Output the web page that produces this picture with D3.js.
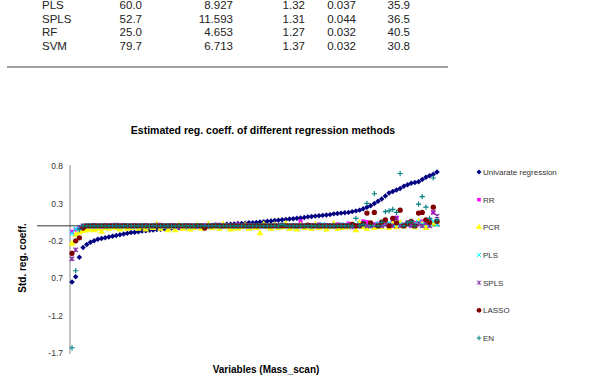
<!DOCTYPE html>
<html>
<head>
<meta charset="utf-8">
<script src="https://cdn.jsdelivr.net/npm/d3@7"></script>
<style>
  body { margin: 0; background: #fff; }
  text { font-family: Arial, "Liberation Sans", sans-serif; }
</style>
</head>
<body>
<script>
var width = 603,
  height = 380;

// table rows still visible above the figure
var methods = ["PLS", "SPLS", "RF", "SVM"];
var col1 = ["60.0", "52.7", "25.0", "79.7"];
var col2 = ["8.927", "11.593", "4.653", "6.713"];
var col3 = ["1.32", "1.31", "1.27", "1.37"];
var col4 = ["0.037", "0.044", "0.032", "0.032"];
var col5 = ["35.9", "36.5", "40.5", "30.8"];

// chart
var seriesNames = ["Univarate regression", "RR", "PCR", "PLS", "SPLS", "LASSO", "EN"];
var yTicks = [0.8, 0.3, -0.2, -0.7, -1.2, -1.7];
var yTickLabels = ["0.8", "0.3", "-0.2", "0.7", "-1.2", "-1.7"];

var univariate = [
  -0.75, -0.68, -0.42, -0.29, -0.25, -0.22, -0.20, -0.18, -0.17, -0.16,
  -0.15, -0.14, -0.13, -0.12, -0.11, -0.10, -0.09, -0.085, -0.08, -0.07,
  -0.065, -0.06, -0.055, -0.05, -0.045, -0.04, -0.035, -0.03, -0.03, -0.025,
  -0.02, -0.02, -0.015, -0.01, -0.01, -0.005, 0, 0, 0.005, 0.01,
  0.01, 0.015, 0.02, 0.02, 0.025, 0.03, 0.03, 0.035, 0.04, 0.04,
  0.045, 0.05, 0.055, 0.06, 0.065, 0.07, 0.075, 0.08, 0.085, 0.09,
  0.095, 0.10, 0.105, 0.11, 0.12, 0.125, 0.13, 0.135, 0.14, 0.145,
  0.15, 0.16, 0.165, 0.17, 0.175, 0.18, 0.19, 0.20, 0.21, 0.23,
  0.25, 0.27, 0.30, 0.33, 0.36, 0.40, 0.44, 0.46, 0.48, 0.50,
  0.53, 0.55, 0.57, 0.58, 0.59, 0.62, 0.65, 0.67, 0.69, 0.72
];
var rr = [
  -0.08, -0.05, -0.03, -0.02, -0.01, -0.01, 0.01, 0, -0.01, 0.01,
  0, 0.01, -0.01, 0, 0.01, 0, -0.01, 0.01, 0, 0,
  0.01, -0.01, 0, 0.02, 0, -0.01, 0, 0.01, 0, -0.02,
  0, 0.01, 0, -0.01, 0.01, 0, 0.01, -0.01, 0, 0.01,
  0, -0.01, 0.01, 0, 0, 0.02, -0.01, 0, 0.01, 0,
  -0.01, 0, 0.01, 0, -0.02, 0.01, 0, 0.01, 0, -0.01,
  0.01, 0, 0.06, 0, -0.01, 0.01, 0, 0.02, 0, 0.01,
  0, -0.01, 0.02, 0, 0.01, 0.03, -0.02, 0.01, 0.04, 0.06,
  0.05, 0, 0.02, 0.03, -0.01, 0.04, 0.02, 0.06, 0.11, 0.03,
  0.02, 0.05, 0.01, 0.04, 0.02, 0.06, 0.03, 0.08, 0.18, 0.04
];
var pcr = [
  -0.24, -0.12, -0.09, -0.07, -0.06, -0.05, -0.06, -0.04, -0.08, -0.03,
  -0.04, -0.02, -0.03, -0.05, -0.02, -0.04, -0.03, -0.01, -0.04, -0.02,
  -0.05, -0.02, -0.03, 0.02, -0.04, -0.01, -0.06, -0.02, -0.06, 0.01,
  -0.04, -0.02, -0.05, -0.03, 0.01, -0.04, -0.02, 0.02, -0.03, -0.01,
  -0.04, 0.02, -0.02, -0.05, -0.03, -0.04, -0.02, 0.01, -0.04, -0.02,
  -0.03, -0.10, 0.02, -0.02, -0.04, 0.01, -0.03, -0.02, 0.03, -0.04,
  -0.02, -0.05, 0.01, -0.03, -0.02, -0.04, 0.02, -0.03, -0.01, -0.05,
  -0.02, 0.03, -0.04, -0.03, -0.02, -0.02, 0.01, -0.06, 0.04, -0.02,
  -0.04, 0.02, -0.03, -0.01, -0.02, 0.05, -0.03, 0.03, -0.02, 0.04,
  -0.01, 0.03, 0.05, -0.02, 0.06, 0.02, -0.03, 0.04, 0.03, 0.05
];
var pls = [
  -0.10, -0.04, -0.02, -0.01, 0, 0.01, -0.01, 0, 0.01, 0,
  -0.01, 0, 0.01, -0.01, 0, 0.01, 0, -0.01, 0, 0.01,
  0, -0.01, 0.01, 0, 0, -0.01, 0.01, 0, -0.01, 0,
  0.01, 0, -0.01, 0, 0.01, 0, 0, -0.01, 0.01, 0,
  -0.01, 0, 0.01, 0, -0.01, 0.01, 0, 0, -0.01, 0.01,
  0, 0.01, -0.01, 0, 0.01, 0, -0.01, 0.01, 0, 0,
  0.01, -0.01, 0, 0.01, 0, -0.01, 0.01, 0, 0.02, 0,
  -0.01, 0.01, 0, 0.02, 0, 0.01, -0.01, 0.02, 0.01, 0.03,
  0, 0.02, 0.01, 0.03, 0, 0.02, 0.04, 0.01, 0.03, 0.02,
  0.01, 0.04, 0.02, 0.03, 0.05, 0.02, 0.04, 0.03, 0.06, 0.02
];
var spls = [
  -0.44, -0.32, -0.02, 0, 0, 0, 0, 0, 0, 0,
  0, 0, 0.01, 0, 0, 0, 0, 0, 0, 0,
  0, 0, 0, 0, 0.01, 0, 0, 0, 0, 0,
  0, 0, 0, 0, 0, 0, 0, 0, 0, 0.01,
  0, 0, 0, 0, 0, 0, 0, 0, 0, 0,
  0, 0, 0, 0, 0, 0, 0, 0.01, 0, 0,
  0, 0, 0, 0, 0, 0, 0, 0, 0, 0,
  0, 0, 0, 0.01, 0, 0, 0, 0, 0, 0.02,
  0, 0, 0.01, 0, 0, 0.02, 0, 0, 0.10, 0,
  0, 0.02, 0, 0, 0.03, 0, 0.04, 0, 0.18, 0.13
];
var lasso = [
  -0.37, -0.20, -0.16, -0.03, 0, 0, 0, 0, 0, 0,
  0, 0, 0, 0, 0, 0, 0, 0, 0, 0,
  0, 0, 0, 0, 0, 0, 0, 0, 0, 0,
  0, 0, 0, 0, 0, 0, -0.03, 0, 0, 0,
  0, 0, 0, 0, 0, 0, 0, 0, 0, 0,
  0, 0, 0, 0, 0, 0, 0, 0, 0, 0,
  0, 0, 0, 0, 0.01, 0, 0, 0, 0, 0,
  0, 0, 0, 0, 0, 0, 0.02, 0, 0, 0.03,
  0.17, 0.04, 0.18, 0, 0.05, 0.08, 0, 0.10, 0.04, 0.21,
  0, 0.03, 0.06, 0, 0.17, 0.18, 0.08, 0.05, 0.25, 0.06
];
var en = [
  -1.63, -0.60, -0.05, 0, 0, 0, 0, 0, 0, 0,
  0, 0, 0, 0, 0, 0, 0, 0, 0, 0,
  0, 0, 0, 0, 0, 0, 0, 0, 0, 0,
  0, 0, 0, 0, 0, 0, 0, 0, 0, 0,
  0, 0, 0, 0, 0, 0, 0, 0, 0, 0,
  0, 0, 0, 0, 0, 0, 0, 0.02, 0, 0,
  0, 0, 0, 0, 0, 0, 0, 0, 0, 0,
  0, 0, 0, 0, 0, 0, 0, 0.10, 0, 0.02,
  0.30, 0, 0.43, 0, 0.05, 0.19, 0.20, 0.22, 0.18, 0.70,
  0, 0.04, 0.06, 0, 0.29, 0.39, 0.25, 0.10, 0.64, 0.08
];
var allValues = [univariate, rr, pcr, pls, spls, lasso, en];

var colors = ["#000080", "#ff00ff", "#ffff00", "#00ffff", "#7f2a9f", "#800000", "#008080"];

// marker shapes (excel style)
var symX = { draw: function (c, s) { var r = Math.sqrt(s) / 2; c.moveTo(-r, -r); c.lineTo(r, r); c.moveTo(r, -r); c.lineTo(-r, r); } };
var symPlus = { draw: function (c, s) { var r = Math.sqrt(s) / 2; c.moveTo(-r, 0); c.lineTo(r, 0); c.moveTo(0, -r); c.lineTo(0, r); } };
var symAst = { draw: function (c, s) { var r = Math.sqrt(s) / 2; c.moveTo(-r, -r); c.lineTo(r, r); c.moveTo(r, -r); c.lineTo(-r, r); c.moveTo(0, -r); c.lineTo(0, r); } };
var shapes = [d3.symbolSquare, d3.symbolSquare, d3.symbolTriangle, symX, symAst, d3.symbolCircle, symPlus];
var sizes = [15, 16, 20, 20, 20, 22, 28];
var rotate = [45, 0, 0, 0, 0, 0, 0];
var stroked = [false, false, false, true, true, false, true];

var svg = d3
  .select("body")
  .append("svg")
  .attr("width", width)
  .attr("height", height)
  .style("background", "#fff");

/*
* table
*/
var rowY = d3.scalePoint().domain(methods).range([9.3, 50]);
var table = svg.append("g").style("font-size", "11.5px").style("fill", "#222");
table.selectAll(".name")
  .data(methods)
  .enter()
  .append("text")
  .attr("x", 42)
  .attr("y", function (d) { return rowY(d); })
  .text(function (d) { return d; });
var cols = [col1, col2, col3, col4, col5];
var colRight = [142, 233, 305, 356, 410];
cols.forEach(function (col, j) {
  table.selectAll(".c" + j)
    .data(col)
    .enter()
    .append("text")
    .attr("x", colRight[j])
    .attr("y", function (d, i) { return rowY(methods[i]); })
    .attr("text-anchor", "end")
    .text(function (d) { return d; });
});
svg.append("line")
  .attr("x1", 7).attr("x2", 448)
  .attr("y1", 67).attr("y2", 67)
  .attr("stroke", "#444")
  .attr("stroke-width", 1.2);

/*
* scatter chart
*/
var n = univariate.length;
var x = d3.scaleLinear().domain([1, n]).range([72, 437]);
var y = d3.scaleLinear().domain([-1.7, 0.8]).range([353, 166]);

svg.append("text")
  .attr("x", 263)
  .attr("y", 134)
  .attr("text-anchor", "middle")
  .style("font-size", "10.5px")
  .style("font-weight", "bold")
  .text("Estimated reg. coeff. of different regression methods");

// y axis
var yAxis = svg.append("g")
  .attr("transform", "translate(70,0)")
  .call(d3.axisLeft(y)
    .tickValues(yTicks)
    .tickSize(0)
    .tickPadding(7)
    .tickFormat(function (d, i) { return yTickLabels[i]; }));
yAxis.select(".domain").attr("stroke", "#888").attr("d", "M0," + (y(0.8) - 1) + "V" + (y(-1.7) + 1));
yAxis.selectAll("text")
  .style("font-family", "Arial, 'Liberation Sans', sans-serif")
  .style("font-size", "8.5px")
  .attr("fill", "#333");

// x axis line at zero
svg.append("line")
  .attr("x1", 37).attr("x2", 440)
  .attr("y1", y(0)).attr("y2", y(0))
  .attr("stroke", "#333")
  .attr("stroke-width", 1);

svg.append("text")
  .attr("transform", "translate(26," + 258 + ") rotate(-90)")
  .attr("text-anchor", "middle")
  .style("font-size", "10px")
  .style("font-weight", "bold")
  .text("Std. reg. coeff.");

svg.append("text")
  .attr("x", 266)
  .attr("y", 373)
  .attr("text-anchor", "middle")
  .style("font-size", "10px")
  .style("font-weight", "bold")
  .text("Variables (Mass_scan)");

// points, one group per series, in excel order
allValues.forEach(function (vals, k) {
  var sym = d3.symbol().type(shapes[k]).size(sizes[k]);
  svg.append("g")
    .selectAll("path")
    .data(vals)
    .enter()
    .append("path")
    .attr("d", sym)
    .attr("transform", function (d, i) {
      return "translate(" + x(i + 1) + "," + y(d) + ") rotate(" + rotate[k] + ")";
    })
    .attr("fill", stroked[k] ? "none" : colors[k])
    .attr("stroke", stroked[k] ? colors[k] : "none")
    .attr("stroke-width", 1.1);
});

/*
* legend
*/
var legY = d3.scalePoint().domain(seriesNames).range([172, 338]);
var legend = svg.append("g")
  .selectAll(".leg")
  .data(seriesNames)
  .enter()
  .append("g")
  .attr("transform", function (d) { return "translate(479," + legY(d) + ")"; });
legend.append("path")
  .attr("d", function (d, i) { return d3.symbol().type(shapes[i]).size(sizes[i] * 0.8)(); })
  .attr("transform", function (d, i) { return "rotate(" + rotate[i] + ")"; })
  .attr("fill", function (d, i) { return stroked[i] ? "none" : colors[i]; })
  .attr("stroke", function (d, i) { return stroked[i] ? colors[i] : "none"; });
legend.append("text")
  .attr("x", 4)
  .attr("y", 3)
  .style("font-size", "8px")
  .style("fill", "#333")
  .text(function (d) { return d; });
</script>
</body>
</html>
